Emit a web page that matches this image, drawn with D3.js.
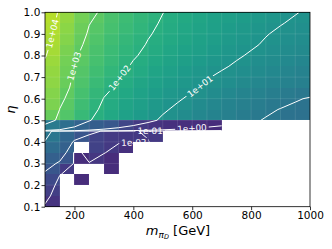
<!DOCTYPE html>
<html>
<head>
<meta charset="utf-8">
<script src="https://cdn.jsdelivr.net/npm/d3@7"></script>
<style>
  body { margin: 0; background: #fff; }
  svg text { font-family: "DejaVu Sans", sans-serif; }
</style>
</head>
<body>
<svg id="chart" width="332" height="249"></svg>
<script>
var _ = null; // no events at this point (drawn white, contoured as zero)

// grid nodes
var massGeV = [100, 150, 200, 250, 300, 350, 400, 450, 500, 550, 600, 650, 700, 750, 800, 850, 900, 950, 1000];
var etaVals = [0.10, 0.15, 0.20, 0.25, 0.30, 0.35, 0.40, 0.45, 0.50, 0.55, 0.60, 0.65, 0.70, 0.75, 0.80, 0.85, 0.90, 0.95, 1.00];

// log10 of the value at each node, one row per eta (bottom row first)
var logVal = [
  [-2.1, _, _, _, _, _, _, _, _, _, _, _, _, _, _, _, _, _, _],
  [-1.8, _, _, _, _, _, _, _, _, _, _, _, _, _, _, _, _, _, _],
  [-1.5, _, -2.3, _, _, _, _, _, _, _, _, _, _, _, _, _, _, _, _],
  [-1.1, -1.95, _, _, -2.3, _, _, _, _, _, _, _, _, _, _, _, _, _, _],
  [-0.8, -1.1, -2.3, -2.05, -2.3, _, _, _, _, _, _, _, _, _, _, _, _, _, _],
  [-0.4, -0.75, _, -1.7, -1.98, -2.2, _, _, _, _, _, _, _, _, _, _, _, _, _],
  [-0.02, -0.6, -1.1, -1.7, -1.9, -1.97, -1.97, -1.97, _, _, _, _, _, _, _, _, _, _, _],
  [0.15, -0.3, -0.65, -0.85, -1.05, -1.6, -1.95, -2.1, -2.2, -2.25, -2.25, -2.3, _, _, _, _, _, _, _],
  [3.2, 2.88, 2.41, 2.03, 1.74, 1.50, 1.29, 1.10, 0.92, 0.75, 0.59, 0.44, 0.31, 0.18, 0.07, -0.04, -0.15, -0.24, -0.34],
  [3.51, 2.99, 2.52, 2.16, 1.86, 1.62, 1.41, 1.23, 1.06, 0.90, 0.73, 0.58, 0.45, 0.32, 0.20, 0.08, -0.02, -0.13, -0.22],
  [3.62, 3.11, 2.65, 2.28, 1.98, 1.74, 1.54, 1.36, 1.20, 1.05, 0.90, 0.76, 0.62, 0.49, 0.37, 0.26, 0.15, 0.05, -0.05],
  [3.74, 3.23, 2.81, 2.43, 2.13, 1.88, 1.67, 1.49, 1.33, 1.18, 1.05, 0.92, 0.80, 0.69, 0.59, 0.49, 0.40, 0.31, 0.23],
  [3.81, 3.31, 2.91, 2.55, 2.26, 2.02, 1.81, 1.62, 1.45, 1.30, 1.16, 1.03, 0.91, 0.80, 0.70, 0.60, 0.51, 0.42, 0.34],
  [3.92, 3.37, 2.99, 2.65, 2.38, 2.14, 1.93, 1.75, 1.58, 1.43, 1.29, 1.16, 1.05, 0.94, 0.83, 0.74, 0.64, 0.56, 0.47],
  [4.03, 3.48, 3.06, 2.74, 2.47, 2.24, 2.05, 1.86, 1.70, 1.54, 1.41, 1.28, 1.16, 1.05, 0.95, 0.85, 0.76, 0.67, 0.59],
  [4.11, 3.60, 3.16, 2.82, 2.56, 2.33, 2.14, 1.96, 1.80, 1.64, 1.51, 1.38, 1.26, 1.15, 1.05, 0.95, 0.86, 0.77, 0.69],
  [4.17, 3.71, 3.27, 2.92, 2.65, 2.42, 2.22, 2.04, 1.87, 1.72, 1.58, 1.45, 1.33, 1.22, 1.12, 1.02, 0.93, 0.85, 0.76],
  [4.25, 3.81, 3.37, 3.02, 2.74, 2.50, 2.29, 2.11, 1.94, 1.79, 1.66, 1.53, 1.42, 1.31, 1.21, 1.11, 1.02, 0.94, 0.86],
  [4.30, 3.92, 3.48, 3.14, 2.86, 2.60, 2.38, 2.18, 2.01, 1.86, 1.73, 1.60, 1.49, 1.38, 1.28, 1.19, 1.10, 1.02, 0.94]
];

// points that were not run at all (masked for the contours too)
var notRun = [[750, 0.45], [800, 0.45], [850, 0.45], [900, 0.45], [950, 0.45], [1000, 0.45]];

var levels = [1e-2, 1e-1, 1e0, 1e1, 1e2, 1e3, 1e4];
var xTicks = [200, 400, 600, 800, 1000];
var yTicks = [0.1, 0.2, 0.3, 0.4, 0.5, 0.6, 0.7, 0.8, 0.9, 1.0];

// where each contour label sits (mass, eta)
var labelAt = [[402, 0.40], [457, 0.455], [599, 0.466], [630, 0.652], [351, 0.70], [198, 0.751], [117, 0.904]];

var W = 332, H = 249;
var svg = d3.select('#chart');
var defs = svg.append('defs');

var x = d3.scaleLinear().domain([100, 1000]).range([45, 310]);
var y = d3.scaleLinear().domain([0.1, 1.0]).range([206.7, 12.3]);
var color = d3.scaleSequential(d3.interpolateViridis).domain([-3.4, 5.2]);

var nx = massGeV.length, ny = etaVals.length;
var masked = [], values = [];
etaVals.forEach(function(e, j) {
  massGeV.forEach(function(mv, i) {
    var nr = notRun.some(function(p) { return p[0] === mv && Math.abs(p[1] - e) < 1e-9; });
    var z = logVal[j][i];
    masked.push(nr);
    values.push(nr || z === null ? 0 : Math.pow(10, z));
  });
});

defs.append('clipPath').attr('id', 'plotclip')
  .append('rect').attr('x', 45).attr('y', 12.3).attr('width', 265).attr('height', 194.4);

// heat map cells, coloured by the lower-left node
var cells = [];
for (var j = 0; j < ny - 1; j++) {
  for (var i = 0; i < nx - 1; i++) {
    var z = logVal[j][i];
    if (z !== null && !masked[j * nx + i]) cells.push({ i: i, j: j, z: z });
  }
}
svg.append('g').selectAll('rect')
  .data(cells)
  .enter()
  .append('rect')
  .attr('x', function(d) { return x(massGeV[d.i]); })
  .attr('y', function(d) { return y(etaVals[d.j + 1]); })
  .attr('width', function(d) { return x(massGeV[d.i + 1]) - x(massGeV[d.i]); })
  .attr('height', function(d) { return y(etaVals[d.j]) - y(etaVals[d.j + 1]); })
  .attr('fill', function(d) { return color(d.z); })
  .attr('shape-rendering', 'crispEdges');

// faint seams seen on the mesh
var seams = svg.append('g').attr('clip-path', 'url(#plotclip)')
  .attr('stroke', '#fff').attr('stroke-opacity', 0.1).attr('stroke-width', 1);
massGeV.slice(1, -1).forEach(function(mv) {
  seams.append('line').attr('x1', x(mv)).attr('x2', x(mv)).attr('y1', 12.3).attr('y2', 206.7);
});
yTicks.slice(1, -1).forEach(function(e) {
  seams.append('line').attr('x1', 45).attr('x2', 310).attr('y1', y(e)).attr('y2', y(e));
});

// contour lines
var gx = d3.scaleLinear().domain([0.5, nx - 0.5]).range([massGeV[0], massGeV[nx - 1]]);
var gy = d3.scaleLinear().domain([0.5, ny - 0.5]).range([etaVals[0], etaVals[ny - 1]]);
var contours = d3.contours().size([nx, ny]);

function quadOK(p, q) {
  var i = Math.floor((p[0] + q[0]) / 2 - 0.5), j = Math.floor((p[1] + q[1]) / 2 - 0.5);
  if (i < 0 || j < 0 || i > nx - 2 || j > ny - 2) return false;
  return !masked[j * nx + i] && !masked[j * nx + i + 1] &&
    !masked[(j + 1) * nx + i] && !masked[(j + 1) * nx + i + 1];
}
function toPx(p) { return [x(gx(p[0])), y(gy(p[1]))]; }

function fmtLevel(v) {
  var s = v.toExponential(0).split('e');
  var e = +s[1];
  return s[0] + 'e' + (e < 0 ? '-' : '+') + (Math.abs(e) < 10 ? '0' : '') + Math.abs(e);
}

function pointAt(L, cum, s) {
  s = Math.max(0, Math.min(cum[cum.length - 1], s));
  for (var k = 1; k < L.length; k++) {
    if (cum[k] >= s) {
      var seg = cum[k] - cum[k - 1], t = seg > 0 ? (s - cum[k - 1]) / seg : 0;
      return [L[k - 1][0] + t * (L[k][0] - L[k - 1][0]), L[k - 1][1] + t * (L[k][1] - L[k - 1][1])];
    }
  }
  return L[L.length - 1];
}

var lineGen = d3.line();
var labelLayer = svg.append('g');

levels.forEach(function(lv, k) {
  var geo = contours.contour(values, lv);
  var lines = [];
  geo.coordinates.forEach(function(poly) {
    poly.forEach(function(ring) {
      var n = ring.length - 1, ok = [];
      for (var s = 0; s < n; s++) ok.push(quadOK(ring[s], ring[s + 1]));
      var start = ok.indexOf(false);
      if (start < 0) { lines.push(ring.map(toPx)); return; }
      var cur = null;
      for (var t = 1; t <= n; t++) {
        var s2 = (start + t) % n;
        if (ok[s2]) {
          if (!cur) cur = [ring[s2]];
          cur.push(ring[s2 + 1]);
        } else if (cur) { lines.push(cur.map(toPx)); cur = null; }
      }
      if (cur) lines.push(cur.map(toPx));
    });
  });

  var mask = defs.append('mask').attr('id', 'gap' + k)
    .attr('maskUnits', 'userSpaceOnUse')
    .attr('x', 0).attr('y', 0).attr('width', W).attr('height', H);
  mask.append('rect').attr('width', W).attr('height', H).attr('fill', '#fff');

  svg.append('g')
    .attr('clip-path', 'url(#plotclip)')
    .append('g')
    .attr('mask', 'url(#gap' + k + ')')
    .selectAll('path')
    .data(lines)
    .enter()
    .append('path')
    .attr('d', lineGen)
    .attr('fill', 'none')
    .attr('stroke', '#fff')
    .attr('stroke-width', 1)
    .attr('stroke-linejoin', 'round');

  // inline label
  var a = [x(labelAt[k][0]), y(labelAt[k][1])];
  var best = { d: Infinity };
  lines.forEach(function(L, li) {
    for (var s = 0; s < L.length - 1; s++) {
      var p = L[s], q = L[s + 1];
      var dx = q[0] - p[0], dy = q[1] - p[1], len2 = dx * dx + dy * dy;
      var t = len2 > 0 ? Math.max(0, Math.min(1, ((a[0] - p[0]) * dx + (a[1] - p[1]) * dy) / len2)) : 0;
      var px = p[0] + t * dx, py = p[1] + t * dy;
      var d = Math.hypot(px - a[0], py - a[1]);
      if (d < best.d) best = { d: d, li: li, s: s, t: t, pt: [px, py] };
    }
  });
  if (best.d === Infinity) return;

  var txt = labelLayer.append('text')
    .attr('fill', '#fff')
    .attr('font-size', 8.8)
    .attr('text-anchor', 'middle')
    .attr('dominant-baseline', 'central')
    .text(fmtLevel(lv));
  var w = txt.node().getComputedTextLength();

  var L = lines[best.li], cum = [0];
  for (var s = 1; s < L.length; s++) cum.push(cum[s - 1] + Math.hypot(L[s][0] - L[s - 1][0], L[s][1] - L[s - 1][1]));
  var s0 = cum[best.s] + best.t * (cum[best.s + 1] - cum[best.s]);
  var p1 = pointAt(L, cum, s0 - w / 2), p2 = pointAt(L, cum, s0 + w / 2);
  var ang = Math.atan2(p2[1] - p1[1], p2[0] - p1[0]) * 180 / Math.PI;
  if (ang > 90) ang -= 180;
  if (ang < -90) ang += 180;

  var tr = 'translate(' + best.pt[0] + ',' + best.pt[1] + ') rotate(' + ang + ')';
  txt.attr('transform', tr);
  mask.append('rect')
    .attr('x', -(w + 4) / 2).attr('y', -4.5)
    .attr('width', w + 4).attr('height', 9)
    .attr('transform', tr)
    .attr('fill', '#000');
});

labelLayer.raise();

// axes
var xAxis = svg.append('g')
  .attr('transform', 'translate(0,206.7)')
  .call(d3.axisBottom(x).tickValues(xTicks).tickSize(3.5).tickPadding(1.5).tickFormat(d3.format('d')));
var yAxis = svg.append('g')
  .attr('transform', 'translate(45,0)')
  .call(d3.axisLeft(y).tickValues(yTicks).tickSize(3.5).tickPadding(1.2).tickFormat(d3.format('.1f')));
[xAxis, yAxis].forEach(function(g) {
  g.select('.domain').remove();
  g.attr('font-family', 'DejaVu Sans').attr('font-size', 10.5);
  g.selectAll('line').attr('stroke', '#000').attr('stroke-width', 0.8);
  g.selectAll('text').attr('fill', '#000');
});

svg.append('rect')
  .attr('x', 45).attr('y', 12.3).attr('width', 265).attr('height', 194.4)
  .attr('fill', 'none').attr('stroke', '#000').attr('stroke-width', 0.8);

// axis titles
var xl = svg.append('text')
  .attr('x', 178).attr('y', 235)
  .attr('text-anchor', 'middle')
  .attr('font-size', 13)
  .attr('fill', '#000');
xl.append('tspan').attr('font-style', 'italic').text('m');
xl.append('tspan').attr('font-style', 'italic').attr('font-size', 9).attr('dy', 2.5).text('π');
xl.append('tspan').attr('font-style', 'italic').attr('font-size', 6.5).attr('dy', 1.8).text('D');
xl.append('tspan').attr('dy', -4.3).text(' [GeV]');

svg.append('text')
  .attr('transform', 'translate(15,109.5) rotate(-90)')
  .attr('text-anchor', 'middle')
  .attr('font-size', 13)
  .attr('font-style', 'italic')
  .attr('fill', '#000')
  .text('η');
</script>
</body>
</html>
